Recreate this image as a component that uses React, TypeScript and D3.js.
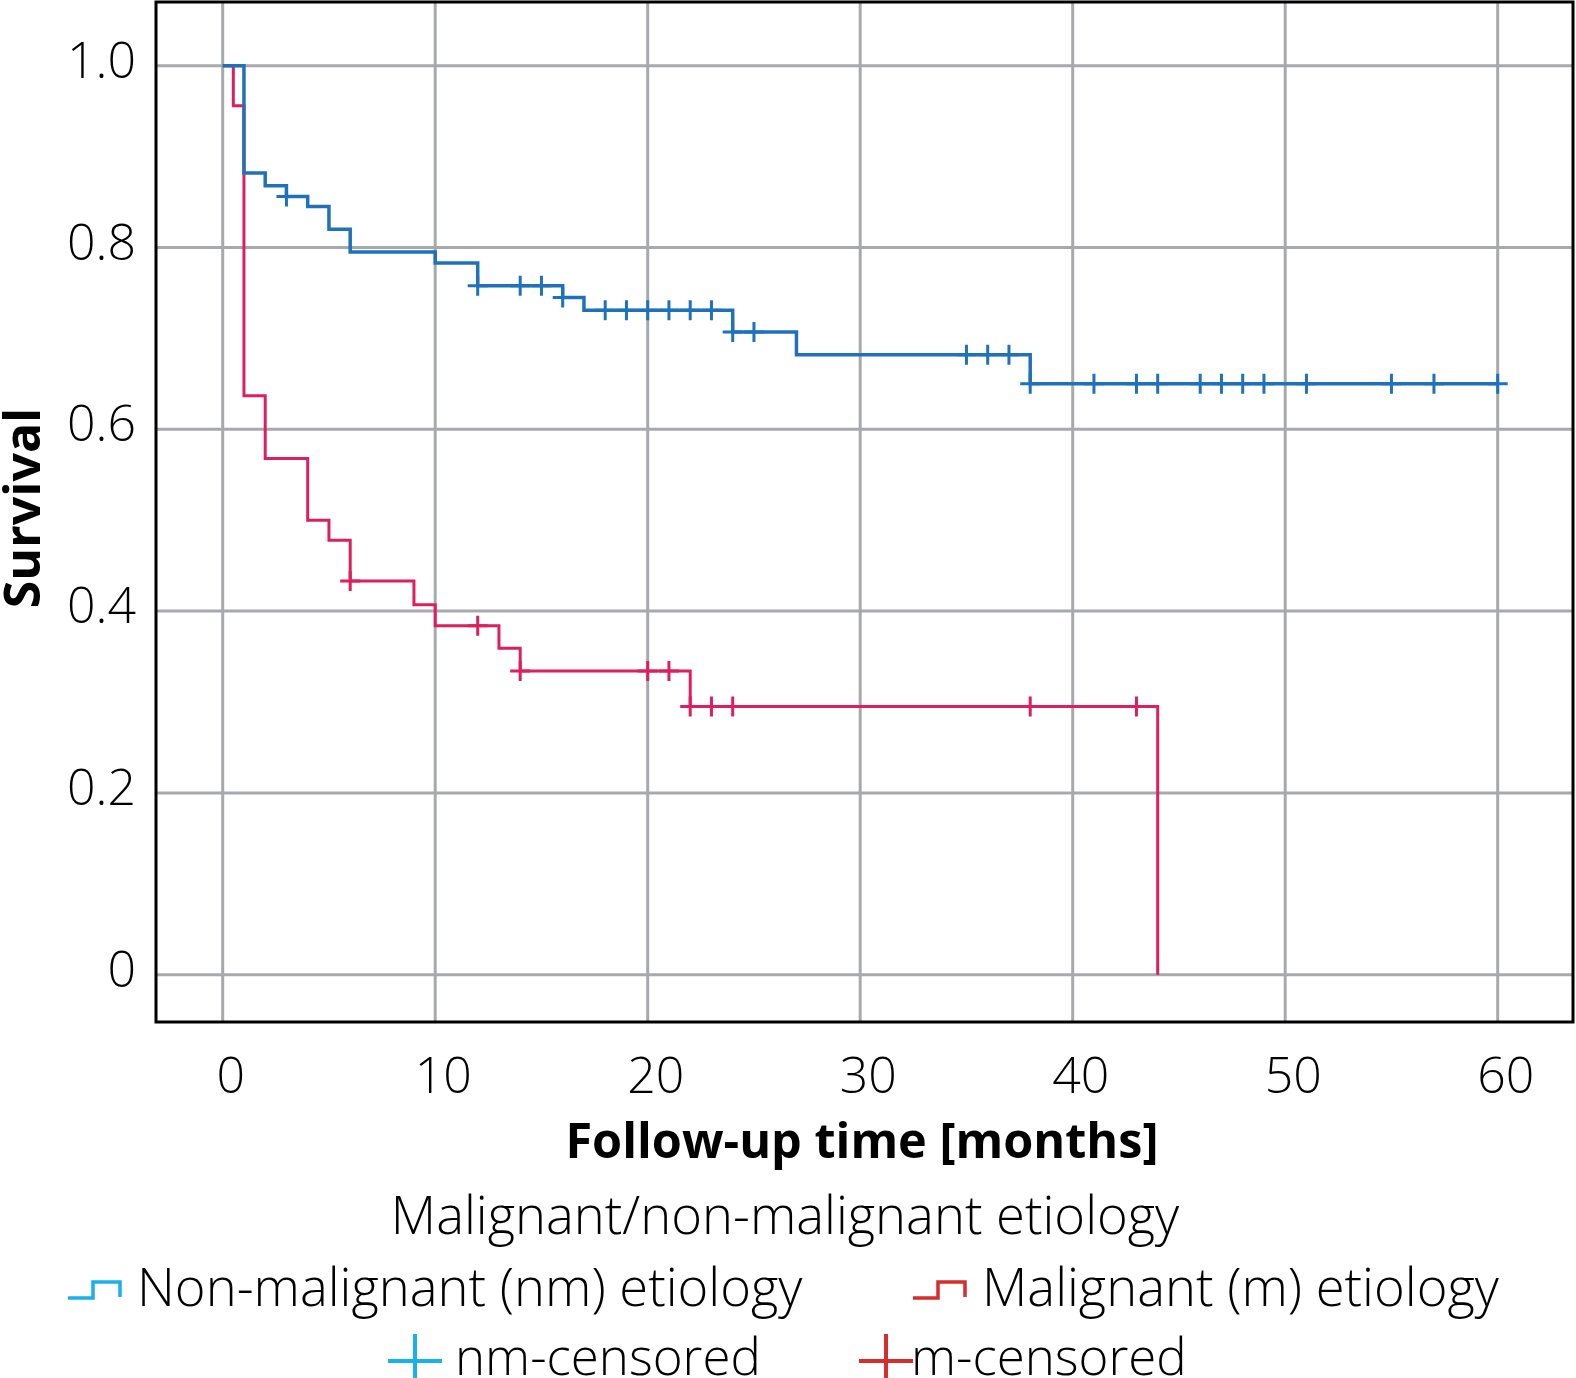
import React from 'react';
import * as d3 from 'd3';

// Kaplan-Meier estimates
const nmTimes = [0, 1, 2, 3, 4, 5, 6, 10, 12, 16, 17, 24, 27, 38, 60];
const nmSurv = [1, 0.882, 0.868, 0.856, 0.845, 0.82, 0.795, 0.783, 0.758, 0.745, 0.731, 0.707, 0.682, 0.65, 0.65];
const nmCensored = [3, 12, 14, 15, 16, 18, 19, 20, 21, 22, 23, 24, 25, 35, 36, 37, 38, 41, 43, 44, 46, 47, 48, 49, 51, 55, 57, 60];

const mTimes = [0, 0.5, 1, 2, 4, 5, 6, 9, 10, 13, 14, 22, 44];
const mSurv = [1, 0.956, 0.637, 0.568, 0.5, 0.478, 0.433, 0.407, 0.384, 0.359, 0.334, 0.295, 0];
const mCensored = [6, 12, 14, 20, 21, 22, 23, 24, 38, 43];

const xTicks = [0, 10, 20, 30, 40, 50, 60];
const yTicks = [0, 0.2, 0.4, 0.6, 0.8, 1.0];

const W = 1576;
const H = 1378;
const frame = { left: 156, top: 2, right: 1573, bottom: 1022 };

const BLUE = '#1f72ba';
const RED = '#dc1f5e';
const GRID = '#a7a9ac';
const LEG_BLUE = '#1ab0e8';
const LEG_RED = '#d62d2d';
const LIGHT = "'Open Sans', 'Noto Sans', sans-serif";

type Pt = { t: number; s: number };

const zip = (ts: number[], ss: number[]): Pt[] => ts.map((t, i) => ({ t, s: ss[i] }));

// survival value at time t (after any drop at t)
const survAt = (pts: Pt[], t: number) => {
  let v = pts[0].s;
  for (const p of pts) if (p.t <= t) v = p.s;
  return v;
};

const App: React.FC = () => {
  const x = d3.scaleLinear().domain([0, 60]).range([222.7, 1497.7]);
  const y = d3.scaleLinear().domain([0, 1]).range([974.7, 65.7]);

  const line = d3.line<Pt>()
    .x(d => x(d.t))
    .y(d => y(d.s))
    .curve(d3.curveStepAfter);

  const nm = zip(nmTimes, nmSurv);
  const m = zip(mTimes, mSurv);

  const plus = (t: number, s: number, color: string, key: string) => {
    const cx = x(t);
    const cy = y(s);
    return (
      <path key={key} d={`M${cx - 10},${cy}H${cx + 10}M${cx},${cy - 10}V${cy + 10}`}
        stroke={color} strokeWidth={3} fill="none" />
    );
  };

  return (
    <div style={{ position: 'absolute', left: 0, top: 0, background: '#fff' }}>
      <svg width={W} height={H} style={{ display: 'block' }}>
        {/* grid */}
        {yTicks.map(v => (
          <line key={'gy' + v} x1={frame.left} x2={frame.right} y1={y(v)} y2={y(v)} stroke={GRID} strokeWidth={3} />
        ))}
        {xTicks.map(v => (
          <line key={'gx' + v} x1={x(v)} x2={x(v)} y1={frame.top} y2={frame.bottom} stroke={GRID} strokeWidth={3} />
        ))}

        {/* curves */}
        <path d={line(m) || ''} fill="none" stroke={RED} strokeWidth={3} />
        {mCensored.map((t, i) => plus(t, survAt(m, t), RED, 'mc' + i))}
        <path d={line(nm) || ''} fill="none" stroke={BLUE} strokeWidth={3.5} />
        {nmCensored.map((t, i) => plus(t, survAt(nm, t), BLUE, 'nc' + i))}

        {/* frame */}
        <rect x={frame.left} y={frame.top} width={frame.right - frame.left} height={frame.bottom - frame.top}
          fill="none" stroke="#000" strokeWidth={3} />

        {/* y tick labels */}
        {yTicks.map(v => (
          <text key={'ly' + v} x={136} y={y(v) + 12} textAnchor="end" fontFamily={LIGHT} fontWeight={300}
            fontSize={50} fill="#000">{v === 0 ? '0' : v.toFixed(1)}</text>
        ))}
        {/* x tick labels */}
        {xTicks.map(v => (
          <text key={'lx' + v} x={x(v) + 8} y={1093} textAnchor="middle" fontFamily={LIGHT} fontWeight={300}
            fontSize={50} fill="#000">{v}</text>
        ))}

        {/* axis titles */}
        <text transform="translate(40,508) rotate(-90)" textAnchor="middle" fontFamily={LIGHT} fontWeight={700}
          fontSize={50} fill="#000">Survival</text>
        <text x={862} y={1158} textAnchor="middle" fontFamily={LIGHT} fontWeight={700} fontSize={48.6}
          fill="#000">Follow-up time [months]</text>

        {/* legend */}
        <text x={785} y={1234} textAnchor="middle" fontFamily={LIGHT} fontWeight={300} fontSize={52.5}
          fill="#000">Malignant/non-malignant etiology</text>

        <path d="M68,1298H93V1282H120V1297" fill="none" stroke={LEG_BLUE} strokeWidth={3.5} />
        <text x={137} y={1306} fontFamily={LIGHT} fontWeight={300} fontSize={52.5} fill="#000">Non-malignant (nm) etiology</text>
        <path d="M913,1298H938V1282H965V1297" fill="none" stroke={LEG_RED} strokeWidth={3.5} />
        <text x={982} y={1306} fontFamily={LIGHT} fontWeight={300} fontSize={52.5} fill="#000">Malignant (m) etiology</text>

        <path d="M388,1361H442M415,1334V1388" fill="none" stroke={LEG_BLUE} strokeWidth={4} />
        <text x={455} y={1375} fontFamily={LIGHT} fontWeight={300} fontSize={51} fill="#000">nm-censored</text>
        <path d="M859,1361H913M886,1334V1388" fill="none" stroke={LEG_RED} strokeWidth={4} />
        <text x={911} y={1375} fontFamily={LIGHT} fontWeight={300} fontSize={51} fill="#000">m-censored</text>
      </svg>
    </div>
  );
};

export default App;
